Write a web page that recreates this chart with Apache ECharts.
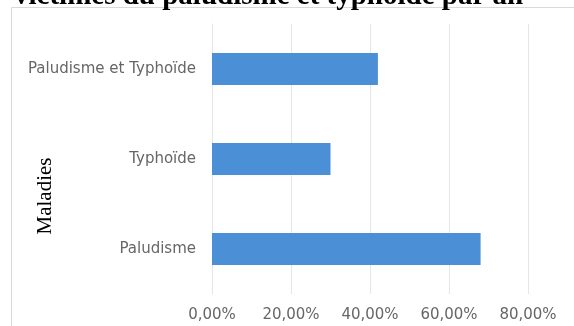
<!DOCTYPE html>
<html>
<head>
<meta charset="utf-8">
<script src="https://cdn.jsdelivr.net/npm/echarts@6/dist/echarts.min.js"></script>
<style>
  html, body { margin: 0; padding: 0; background: #fff; }
  #chart { width: 574px; height: 326px; }
</style>
</head>
<body>
<div id="chart"></div>
<script>
// données (en %)
const maladies = ['Paludisme', 'Typhoïde', 'Paludisme et Typhoïde']
const pourcentages = [68, 30, 42]
const ticks = [0, 20, 40, 60, 80]

const myChart = echarts.init(document.getElementById('chart'))

const option = {
  animation: false,
  graphic: [
    {
      // titre coupé en haut de l'image
      type: 'text',
      x: 14,
      y: 11,
      style: {
        text: 'victimes du paludisme et typhoïde par an',
        fontFamily: 'Liberation Serif',
        fontWeight: 'bold',
        fontSize: 29,
        fill: '#000',
        align: 'left',
        verticalAlign: 'bottom'
      }
    },
    {
      type: 'rect',
      z: -1,
      shape: { x: 11.5, y: 7.5, width: 600, height: 400 },
      style: { fill: 'none', stroke: '#d9d9d9', lineWidth: 1 }
    },
    {
      // titre de l'axe vertical, décalé vers le bas comme dans l'original
      type: 'text',
      x: 45,
      y: 196,
      rotation: Math.PI / 2,
      style: {
        text: 'Maladies',
        fontFamily: 'Liberation Serif',
        fontSize: 21,
        fill: '#000',
        align: 'center',
        verticalAlign: 'middle'
      }
    }
  ],
  grid: {
    left: 212,
    right: 46,
    top: 24,
    bottom: 32,
    containLabel: false,
    outerBoundsMode: 'none'
  },
  xAxis: {
    type: 'value',
    min: ticks[0],
    max: ticks[ticks.length - 1],
    interval: 20,
    axisLine: { show: false },
    axisTick: { show: false },
    splitLine: { lineStyle: { color: '#e6e6e6' } },
    axisLabel: {
      margin: 14,
      color: '#666',
      fontFamily: 'DejaVu Sans',
      fontSize: 15,
      formatter: (v) => v.toFixed(2).replace('.', ',') + '%'
    }
  },
  yAxis: {
    type: 'category',
    data: maladies,
    axisLine: { show: true, lineStyle: { color: '#e6e6e6' } },
    axisTick: { show: false },
    axisLabel: {
      margin: 16,
      color: '#666',
      fontFamily: 'DejaVu Sans',
      fontSize: 15
    }
  },
  series: [
    {
      type: 'bar',
      data: pourcentages,
      barWidth: 32,
      itemStyle: { color: '#4b90d6' }
    }
  ]
}
myChart.setOption(option)
</script>
</body>
</html>
